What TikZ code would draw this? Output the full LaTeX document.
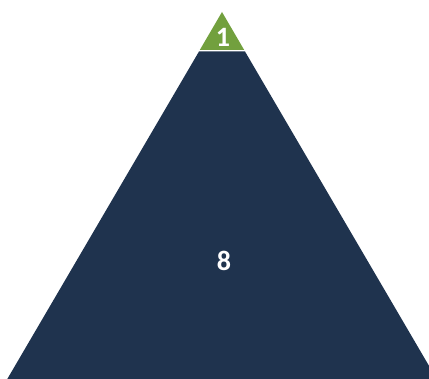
\documentclass[tikz,border=0pt]{standalone}
\usepackage{fontspec}
\setmainfont{Carlito}
\definecolor{topgreen}{HTML}{72A03E}
\definecolor{navy}{HTML}{1F334E}
\begin{document}
\begin{tikzpicture}[x=1pt,y=1pt,
  lbl/.style={text=white,font=\bfseries\fontsize{28}{32}\selectfont,inner sep=0pt}]
\useasboundingbox (0,0) rectangle (429,379);
\clip (0,0) rectangle (429,379);
\fill[white] (0,0) rectangle (429,379);
\coordinate (apex) at (222,367);
\fill[topgreen] (apex) -- (244.2,329) -- (199.8,329) -- cycle;
\fill[navy] (199,327.5) -- (245,327.5) -- (436.7,0) -- (7.3,0) -- cycle;
\node[lbl] (one) at (223,342) {1};
\node[lbl] (eight) at (224,118) {8};
\end{tikzpicture}
\end{document}
